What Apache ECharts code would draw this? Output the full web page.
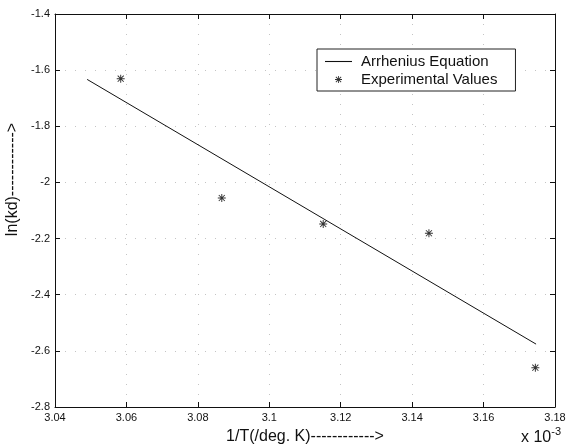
<!DOCTYPE html>
<html>
<head>
<meta charset="utf-8">
<script src="https://cdn.jsdelivr.net/npm/echarts@6/dist/echarts.min.js"></script>
<style>
  html, body { margin: 0; padding: 0; background: #fff; }
  #chart { width: 571px; height: 446px; }
</style>
</head>
<body>
<div id="chart"></div>
<script>
// 数据 (x 单位为 10^-3)
var xRange = [3.04, 3.18]
var yRange = [-2.8, -1.4]
var fitX = [3.049, 3.1747] // Arrhenius 拟合直线端点
var fitY = [-1.633, -2.576]
var expX = [3.0584, 3.0867, 3.1151, 3.1447, 3.1745] // 实验值
var expY = [-1.6305, -2.0555, -2.148, -2.181, -2.660]
var seriesNames = ['Arrhenius Equation', 'Experimental Values']

var font = '"Liberation Sans", Arial, sans-serif'
// 星号 (*) 标记
var star = 'M8.8,0 L11.2,0 L11.2,20 L8.8,20 Z M0,8.8 L20,8.8 L20,11.2 L0,11.2 Z ' +
  'M1.6,3.3 L3.3,1.6 L18.4,16.7 L16.7,18.4 Z M16.7,1.6 L18.4,3.3 L3.3,18.4 L1.6,16.7 Z'
// 图例里用的星号，四周留白让它变小
var starLegend = star + ' M-10,-10 L-9.99,-10 L-10,-9.99 Z M30,30 L29.99,30 L30,29.99 Z'
// 图例里的直线
var lineLegend = 'M0,0 L100,0 L100,4 L0,4 Z'

var myChart = echarts.init(document.getElementById('chart'))

var fitData = fitX.map(function (x, i) { return [x, fitY[i]] })
var expData = expX.map(function (x, i) { return [x, expY[i]] })

var axisLine = { show: true, lineStyle: { color: '#111', width: 1 } }
var tick = { show: true, inside: true, length: 5, lineStyle: { color: '#111' } }
var grid = { show: true, lineStyle: { color: '#c4c4c4', type: [1, 9], width: 1 } }

var option = {
  animation: false,
  backgroundColor: '#fff',
  grid: { left: 55, top: 14, right: 16, bottom: 39, containLabel: false, outerBoundsMode: 'none' },
  legend: {
    orient: 'vertical',
    left: 317,
    top: 49,
    padding: [5, 18, 4, 8],
    itemWidth: 27,
    itemHeight: 14,
    itemGap: 3,
    backgroundColor: '#fff',
    borderColor: '#222',
    borderWidth: 1,
    borderRadius: 0,
    textStyle: { fontFamily: font, fontSize: 15, color: '#111', padding: [0, 0, 0, 4] },
    data: [
      { name: seriesNames[0], icon: 'path://' + lineLegend },
      { name: seriesNames[1], icon: 'path://' + starLegend }
    ]
  },
  xAxis: [
    {
      type: 'value',
      min: xRange[0],
      max: xRange[1],
      interval: 0.02,
      position: 'bottom',
      name: '1/T(/deg. K)------------>',
      nameLocation: 'middle',
      nameGap: 22,
      nameTextStyle: { fontFamily: font, fontSize: 16, color: '#111' },
      axisLine: axisLine,
      axisTick: tick,
      axisLabel: { fontFamily: font, fontSize: 11, color: '#111', margin: 5 },
      splitLine: grid
    },
    {
      type: 'value',
      min: xRange[0],
      max: xRange[1],
      interval: 0.02,
      position: 'top',
      axisLine: axisLine,
      axisTick: tick,
      axisLabel: { show: false },
      splitLine: { show: false }
    }
  ],
  yAxis: [
    {
      type: 'value',
      min: yRange[0],
      max: yRange[1],
      interval: 0.2,
      position: 'left',
      name: 'ln(kd)------------>',
      nameLocation: 'middle',
      nameRotate: 90,
      nameGap: 31,
      nameTextStyle: { fontFamily: font, fontSize: 16, color: '#111', padding: [0, 0, 0, 62] },
      axisLine: axisLine,
      axisTick: tick,
      axisLabel: { fontFamily: font, fontSize: 11, color: '#111', margin: 5 },
      splitLine: grid
    },
    {
      type: 'value',
      min: yRange[0],
      max: yRange[1],
      interval: 0.2,
      position: 'right',
      axisLine: axisLine,
      axisTick: tick,
      axisLabel: { show: false },
      splitLine: { show: false }
    }
  ],
  graphic: [
    {
      type: 'text',
      left: 521,
      top: 426,
      style: {
        text: '{a|x 10}{b|-3}',
        rich: {
          a: { fontFamily: font, fontSize: 16, fill: '#111', verticalAlign: 'bottom', lineHeight: 20 },
          b: { fontFamily: font, fontSize: 11, fill: '#111', verticalAlign: 'top', lineHeight: 20, padding: [0, 0, 8, 0] }
        }
      }
    }
  ],
  series: [
    {
      name: seriesNames[0],
      type: 'line',
      data: fitData,
      symbol: 'none',
      lineStyle: { color: '#111', width: 1 },
      itemStyle: { color: '#111' }
    },
    {
      name: seriesNames[1],
      type: 'scatter',
      data: expData,
      symbol: 'path://' + star,
      symbolSize: 8,
      itemStyle: { color: '#000' }
    }
  ]
}

myChart.setOption(option)
</script>
</body>
</html>
